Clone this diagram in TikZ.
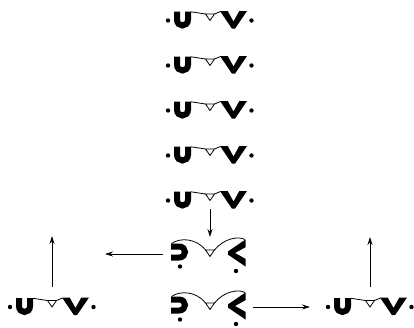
\documentclass[tikz,border=0pt]{standalone}
\usetikzlibrary{arrows.meta}
\newcommand{\glyphU}{%
  \draw[line width=6pt] (-5.5,-8.5) -- (-5.5,-0.5) .. controls (-5.5,7.5) and (5.5,7.5) .. (5.5,-0.5) -- (5.5,-8.5);
  \fill (-14.5,0.5) circle[radius=2.2pt];}
\newcommand{\glyphV}{%
  \fill (-13.5,-9) -- (-5.8,-9) -- (0,1.5) -- (5.8,-9) -- (13.5,-9) -- (1.6,8.5) -- (-1.6,8.5) -- cycle;
  \fill (18,0.5) circle[radius=2.2pt];}
\tikzset{
  thin/.style={line width=0.8pt},
  arr/.style={line width=0.8pt,-{Stealth[length=8pt,width=5pt]}},
  uv/.pic={
    \begin{scope}[shift={(-27.5,0)}]\glyphU\end{scope}
    \begin{scope}[shift={(23.5,0)}]\glyphV\end{scope}
    \draw[thin] (-19,-8.2) -- (-4.5,-6);
    \draw[thin] (4.5,-6) -- (10.5,-8.5);
    \draw[thin,fill=white] (-4.5,-6) -- (4.5,-6) -- (0,0.5) -- cycle;
    \coordinate (-bot) at (0,9);
    \coordinate (-top) at (0,-19.5);
    \coordinate (-left) at (-60,0.5);
  },
  uvrot/.pic={
    \begin{scope}[shift={(-30.5,-1)},rotate=90]\glyphU\end{scope}
    \begin{scope}[shift={(26.5,0)},rotate=-90]\glyphV\end{scope}
    \draw[thin] (-38.5,-9.5) .. controls (-30,-15.5) and (-14,-15) .. (-4.5,-3);
    \draw[thin] (4.5,-3) .. controls (14,-15) and (29,-17) .. (35,-13.5);
    \draw[thin,fill=white] (-4.5,-3) -- (4.5,-3) -- (0,3.5) -- cycle;
    \coordinate (-top) at (0,-16);
    \coordinate (-left) at (-47,1);
    \coordinate (-right) at (43,1);
  }
}
\begin{document}
\begin{tikzpicture}[x=1pt,y=-1pt]
\useasboundingbox (0,0) rectangle (414,327);
\pic (g1) at (210,20) {uv};
\pic (g2) at (210,65) {uv};
\pic (g3) at (210,110) {uv};
\pic (g4) at (210,155) {uv};
\pic (g5) at (210,200) {uv};
\pic (g6) at (210,253) {uvrot};
\pic (g7) at (210,306) {uvrot};
\pic (g8) at (52,306.5) {uv};
\pic (g9) at (370,306.5) {uv};
\coordinate (e6) at (105,254);
\coordinate (e8) at (52,236);
\coordinate (e9) at (370,237);
\draw[arr] (g5-bot) -- (g6-top);
\draw[arr] (g6-left) -- (e6);
\draw[arr] (g7-right) -- (g9-left);
\draw[arr] (g8-top) -- (e8);
\draw[arr] (g9-top) -- (e9);
\end{tikzpicture}
\end{document}
